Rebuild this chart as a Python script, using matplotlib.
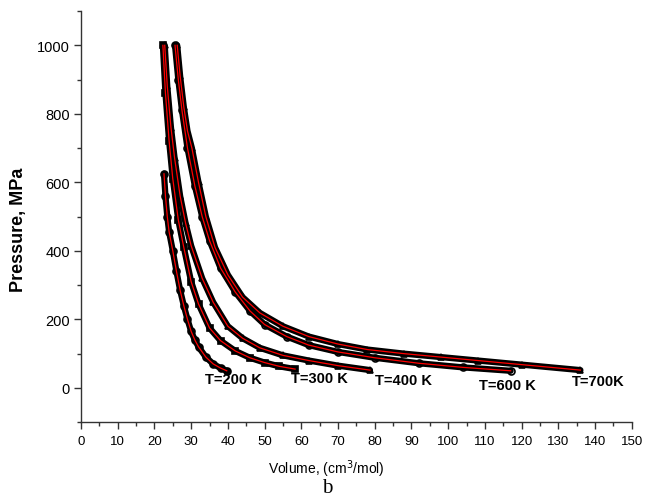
import matplotlib
matplotlib.use("Agg")
import matplotlib.pyplot as plt
from matplotlib.ticker import MultipleLocator

# Data: volume (cm^3/mol) and pressure (MPa)
v_200 = [22.6, 23.0, 23.5, 24.0, 25.0, 26.0, 27.0, 28.0, 29.0, 30.0, 31.0, 32.0, 34.0, 36.0, 38.0, 39.7]
p_200 = [625, 560, 500, 455, 400, 340, 285, 240, 200, 165, 140, 120, 90, 70, 58, 50]

v_300 = [22.3, 23.0, 24.0, 25.0, 26.5, 28.0, 30.0, 32.0, 35.0, 38.0, 42.0, 46.0, 50.0, 54.0, 58.3]
p_300 = [1000, 860, 720, 610, 490, 410, 310, 245, 175, 138, 108, 88, 74, 63, 55]

v_400 = [22.8, 23.5, 24.5, 25.5, 27.0, 28.5, 30.0, 33.0, 36.0, 40.0, 44.0, 48.7, 55.0, 62.0, 70.0, 78.7]
p_400 = [1000, 880, 760, 670, 560, 480, 415, 320, 250, 180, 145, 117, 95, 80, 65, 52]

v_600 = [25.6, 26.5, 27.5, 29.0, 31.0, 33.0, 35.0, 38.0, 42.0, 46.0, 50.0, 56.0, 62.0, 70.0, 80.0, 92.0, 104.0, 117.0]
p_600 = [1000, 900, 810, 700, 590, 500, 430, 350, 280, 225, 185, 150, 125, 105, 88, 72, 60, 50]

v_700 = [26.2, 27.0, 28.0, 29.0, 30.2, 32.0, 34.0, 36.5, 40.0, 44.0, 48.7, 55.0, 62.0, 70.0, 78.0, 88.0, 98.0, 108.0, 120.0, 136.0]
p_700 = [1000, 910, 820, 750, 700, 600, 500, 410, 330, 265, 219, 180, 150, 128, 112, 100, 90, 80, 68, 52]

labels = ["T=200 K", "T=300 K", "T=400 K", "T=600 K", "T=700K"]
label_v = [41.4, 64.8, 87.7, 116.0, 140.8]
label_p = [26, 29, 23, 9, 20]

series = [(v_200, p_200, 'o', 'k'), (v_300, p_300, 's', 'k'), (v_400, p_400, '^', 'k'),
          (v_600, p_600, 'o', 'none'), (v_700, p_700, '^', 'k')]

plt.rcParams['font.family'] = ['Liberation Sans', 'DejaVu Sans']

fig = plt.figure(figsize=(6.48, 5.02), dpi=100)
ax = fig.add_axes([0.125, 0.157, 0.850, 0.819])

for v, p, m, fc in series:
    ax.plot(v, p, color='black', lw=4.5, solid_capstyle='round', solid_joinstyle='round', zorder=2)
    ax.plot(v, p, linestyle='none', marker=m, ms=5, mfc=fc, mec='black', mew=1.2, zorder=3)
    ax.plot(v, p, color='red', lw=0.9, zorder=4)

for t, x, y in zip(labels, label_v, label_p):
    ax.text(x, y, t, ha='center', va='center', fontsize=10.5, fontweight='bold')

ax.set_xlim(0, 150)
ax.set_ylim(-100, 1100)
ax.xaxis.set_major_locator(MultipleLocator(10))
ax.xaxis.set_minor_locator(MultipleLocator(5))
ax.yaxis.set_major_locator(MultipleLocator(200))
ax.yaxis.set_minor_locator(MultipleLocator(100))
ax.spines['top'].set_visible(False)
ax.spines['right'].set_visible(False)
for s in ('left', 'bottom'):
    ax.spines[s].set_color('#333333')
    ax.spines[s].set_linewidth(1.0)
ax.tick_params(which='major', direction='out', length=5, width=1, color='#333333')
ax.tick_params(which='minor', direction='out', length=3, width=1, color='#333333')
ax.tick_params(axis='y', labelsize=10.5, pad=3)
ax.tick_params(axis='x', labelsize=9.5, pad=4)

ax.set_ylabel("Pressure, MPa", fontsize=13, fontweight='bold')
ax.yaxis.set_label_coords(-0.098, 0.47)
ax.set_xlabel("Volume, (cm$^3$/mol)", fontsize=10)
ax.xaxis.set_label_coords(0.446, -0.085)

fig.text(0.505, 0.008, "b", fontsize=15, family='Liberation Serif', ha='center', va='bottom')

fig.savefig("out.png", dpi=100)
